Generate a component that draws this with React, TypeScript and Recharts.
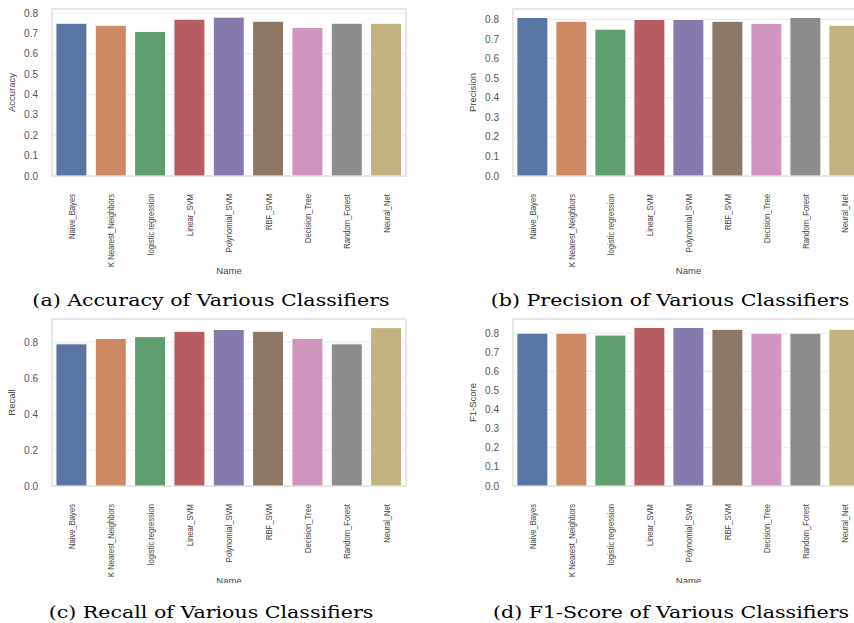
import React from 'react';
import { BarChart, Bar, Cell, XAxis, YAxis, CartesianGrid, ReferenceArea } from 'recharts';

// data
const classifiers = [
  'Naive_Bayes',
  'K Nearest_Neighbors',
  'logistic regression',
  'Linear_SVM',
  'Polynomial_SVM',
  'RBF_SVM',
  'Decision_Tree',
  'Random_Forest',
  'Neural_Net',
];
const accuracy = [0.75, 0.74, 0.71, 0.77, 0.78, 0.76, 0.73, 0.75, 0.75];
const precision = [0.81, 0.79, 0.75, 0.8, 0.8, 0.79, 0.78, 0.81, 0.77];
const recall = [0.79, 0.82, 0.83, 0.86, 0.87, 0.86, 0.82, 0.79, 0.88];
const f1Score = [0.8, 0.8, 0.79, 0.83, 0.83, 0.82, 0.8, 0.8, 0.82];

const tenthTicks = [0, 0.1, 0.2, 0.3, 0.4, 0.5, 0.6, 0.7, 0.8];
const fifthTicks = [0, 0.2, 0.4, 0.6, 0.8];

// seaborn "deep" palette, desaturated like barplot does
const barColors = ['#5875a4', '#cc8963', '#5f9e6e', '#b55d60', '#857aab', '#8d7866', '#d095bf', '#8c8c8c', '#c1b37f'];

const SANS = '"Liberation Sans", Arial, sans-serif';
const SERIF = '"DejaVu Serif", serif';

// the source figure is stretched sideways, so the rotated names are a bit wider and shorter
const RotatedTick = ({ x, y, payload }: any) => (
  <g transform={`translate(${x},${y + 10})`}>
    <text
      x={0}
      y={0}
      dy="0.35em"
      textAnchor="end"
      transform="rotate(-90) scale(0.9, 1.15)"
      fontFamily={SANS}
      fontSize={8.5}
      fill="#444"
    >
      {payload.value}
    </text>
  </g>
);

interface PanelProps {
  values: number[];
  yLabel: string;
  yMax: number;
  ticks: number[];
  left: number;
  top: number;
  width: number;
  marginLeft: number;
  marginRight: number;
  clipHeight: number;
}

const Panel = ({ values, yLabel, yMax, ticks, left, top, width, marginLeft, marginRight, clipHeight }: PanelProps) => {
  const data = classifiers.map((name, i) => ({ name, value: values[i] }));
  return (
    <div style={{ position: 'absolute', left, top, width, height: clipHeight, overflow: 'hidden' }}>
      <BarChart
        width={width}
        height={290}
        data={data}
        margin={{ top: 9, right: marginRight, bottom: 4, left: marginLeft }}
        barCategoryGap="10%"
      >
        <CartesianGrid vertical={false} stroke="#e8e8e8" strokeWidth={1} />
        <ReferenceArea y1={0} y2={yMax} fill="none" stroke="#e2e2e2" strokeWidth={1.6} ifOverflow="visible" />
        <XAxis
          dataKey="name"
          interval={0}
          height={110}
          axisLine={false}
          tickLine={false}
          tick={<RotatedTick />}
          label={{
            content: (p: any) => {
              const vb = p.viewBox;
              return (
                <text
                  x={vb.x + vb.width / 2}
                  y={vb.y + 98}
                  textAnchor="middle"
                  fontFamily={SANS}
                  fontSize={9.5}
                  fill="#444"
                >
                  Name
                </text>
              );
            },
          }}
        />
        <YAxis
          width={52}
          domain={[0, yMax]}
          ticks={ticks}
          allowDataOverflow
          axisLine={false}
          tickLine={false}
          tickMargin={8}
          tickFormatter={(v: number) => v.toFixed(1)}
          tick={{ fontFamily: SANS, fontSize: 10, fill: '#555' }}
          label={{
            content: (p: any) => {
              const vb = p.viewBox;
              const lx = vb.x + vb.width - 37;
              const ly = vb.y + vb.height / 2;
              return (
                <text
                  x={lx}
                  y={ly}
                  textAnchor="middle"
                  transform={`rotate(-90, ${lx}, ${ly})`}
                  fontFamily={SANS}
                  fontSize={9.5}
                  fill="#444"
                >
                  {yLabel}
                </text>
              );
            },
          }}
        />
        <Bar dataKey="value" stroke="#ffffff" strokeWidth={1} isAnimationActive={false}>
          {data.map((d, i) => (
            <Cell key={d.name} fill={barColors[i]} />
          ))}
        </Bar>
      </BarChart>
    </div>
  );
};

const Caption = ({ text, center, top }: { text: string; center: number; top: number }) => (
  <div
    style={{
      position: 'absolute',
      left: center - 220,
      width: 440,
      top,
      textAlign: 'center',
      fontFamily: SERIF,
      fontSize: 17,
      color: '#000',
      whiteSpace: 'nowrap',
      transform: 'scaleX(1.21)',
    }}
  >
    {text}
  </div>
);

export default function App() {
  return (
    <div
      style={{
        position: 'absolute',
        left: 0,
        top: 0,
        width: 854,
        height: 623,
        overflow: 'hidden',
        background: '#fff',
      }}
    >
      <Panel values={accuracy} yLabel="Accuracy" yMax={0.82} ticks={tenthTicks} left={0} top={0} width={420} marginLeft={0} marginRight={14} clipHeight={290} />
      <Panel values={precision} yLabel="Precision" yMax={0.853} ticks={tenthTicks} left={424} top={0} width={450} marginLeft={37} marginRight={10} clipHeight={290} />
      <Panel values={recall} yLabel="Recall" yMax={0.928} ticks={fifthTicks} left={0} top={310} width={420} marginLeft={0} marginRight={14} clipHeight={273} />
      <Panel values={f1Score} yLabel="F1-Score" yMax={0.874} ticks={tenthTicks} left={424} top={310} width={450} marginLeft={37} marginRight={10} clipHeight={273} />

      <Caption text="(a) Accuracy of Various Classifiers" center={211} top={290} />
      <Caption text="(b) Precision of Various Classifiers" center={670} top={290} />
      <Caption text="(c) Recall of Various Classifiers" center={211} top={602} />
      <Caption text="(d) F1-Score of Various Classifiers" center={671} top={602} />
    </div>
  );
}
